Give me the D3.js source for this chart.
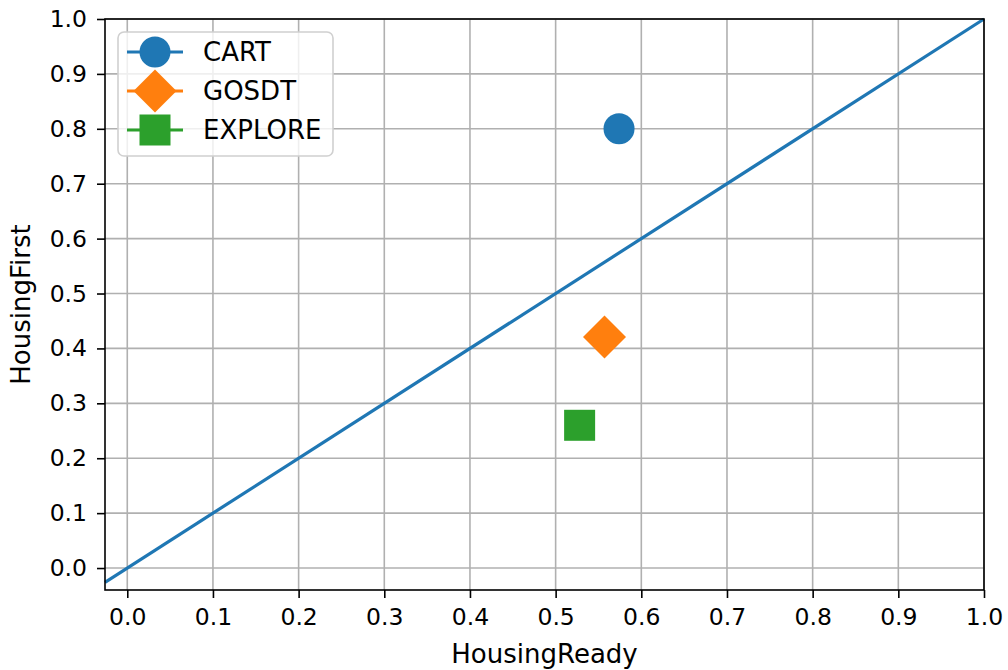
<!DOCTYPE html>
<html><head><meta charset="utf-8">
<script src="https://cdn.jsdelivr.net/npm/d3@7"></script>
<style>body{margin:0;background:#fff}svg{display:block}text{font-family:"DejaVu Sans",sans-serif;fill:#000}</style>
</head><body><svg id="c" width="1008" height="670"></svg>
<script>
const methods = ["CART", "GOSDT", "EXPLORE"];
const housingReady = [0.574, 0.557, 0.528];
const housingFirst = [0.80, 0.421, 0.26];
const colors = ["#1f77b4", "#ff7f0e", "#2ca02c"];
const shapes = ["circle", "diamond", "square"];
const ticks = [0, 0.1, 0.2, 0.3, 0.4, 0.5, 0.6, 0.7, 0.8, 0.9, 1.0];
const diag = [-0.026, 1.0];

const svg = d3.select("#c");
const L = 105, R = 984, T = 19, B = 590;
const x = d3.scaleLinear().domain([-0.026, 1.0]).range([L, R]);
const y = d3.scaleLinear().domain([-0.04, 1.0]).range([B, T]);
const fs = 23.5;

// grid
const g = svg.append("g");
g.selectAll(".gx").data(ticks).enter().append("line")
  .attr("x1", d => x(d)).attr("x2", d => x(d)).attr("y1", T).attr("y2", B)
  .attr("stroke", "#b0b0b0").attr("stroke-width", 1.6);
g.selectAll(".gy").data(ticks).enter().append("line")
  .attr("y1", d => y(d)).attr("y2", d => y(d)).attr("x1", L).attr("x2", R)
  .attr("stroke", "#b0b0b0").attr("stroke-width", 1.6);

// diagonal
svg.append("line").attr("x1", x(diag[0])).attr("y1", y(diag[0])).attr("x2", x(diag[1])).attr("y2", y(diag[1]))
  .attr("stroke", "#1f77b4").attr("stroke-width", 3.2);

// axes
const xa = svg.append("g").attr("transform", `translate(0,${B})`)
  .call(d3.axisBottom(x).tickValues(ticks).tickFormat(d3.format(".1f")).tickSize(8).tickPadding(10));
const ya = svg.append("g").attr("transform", `translate(${L},0)`)
  .call(d3.axisLeft(y).tickValues(ticks).tickFormat(d3.format(".1f")).tickSize(8).tickPadding(10));
[xa, ya].forEach(a => {
  a.select(".domain").remove();
  a.selectAll(".tick line").attr("stroke", "#000").attr("stroke-width", 1.6);
  a.selectAll(".tick text").attr("font-size", fs).attr("font-family", "DejaVu Sans");
});
svg.append("rect").attr("x", L).attr("y", T).attr("width", R - L).attr("height", B - T)
  .attr("fill", "none").attr("stroke", "#000").attr("stroke-width", 1.6);

// markers
function drawMarker(sel, shape, color, cx, cy) {
  if (shape === "circle") sel.append("circle").attr("cx", cx).attr("cy", cy).attr("r", 15.5).attr("fill", color);
  else if (shape === "diamond") sel.append("path").attr("d", `M${cx},${cy-21.5}L${cx+21.5},${cy}L${cx},${cy+21.5}L${cx-21.5},${cy}Z`).attr("fill", color);
  else sel.append("rect").attr("x", cx-15.5).attr("y", cy-15.5).attr("width", 31).attr("height", 31).attr("fill", color);
}
const pts = svg.append("g");
methods.forEach((m, i) => drawMarker(pts, shapes[i], colors[i], x(housingReady[i]), y(housingFirst[i])));

// axis labels
svg.append("text").attr("x", (L + R) / 2).attr("y", 663).attr("text-anchor", "middle").attr("font-size", 26).text("HousingReady");
svg.append("text").attr("transform", `translate(30,${(T + B) / 2}) rotate(-90)`).attr("text-anchor", "middle").attr("font-size", 26).text("HousingFirst");

// legend
const lg = svg.append("g");
lg.append("rect").attr("x", 118).attr("y", 32).attr("width", 215).attr("height", 124).attr("rx", 6)
  .attr("fill", "rgba(255,255,255,0.8)").attr("stroke", "#d0d0d0").attr("stroke-width", 1.6);
methods.forEach((m, i) => {
  const cy = 52 + i * 39;
  lg.append("line").attr("x1", 127).attr("x2", 183).attr("y1", cy).attr("y2", cy).attr("stroke", colors[i]).attr("stroke-width", 3.2);
  drawMarker(lg, shapes[i], colors[i], 155, cy);
  lg.append("text").attr("x", 203).attr("y", cy).attr("dy", "0.36em").attr("font-size", 26).text(m);
});
</script></body></html>
